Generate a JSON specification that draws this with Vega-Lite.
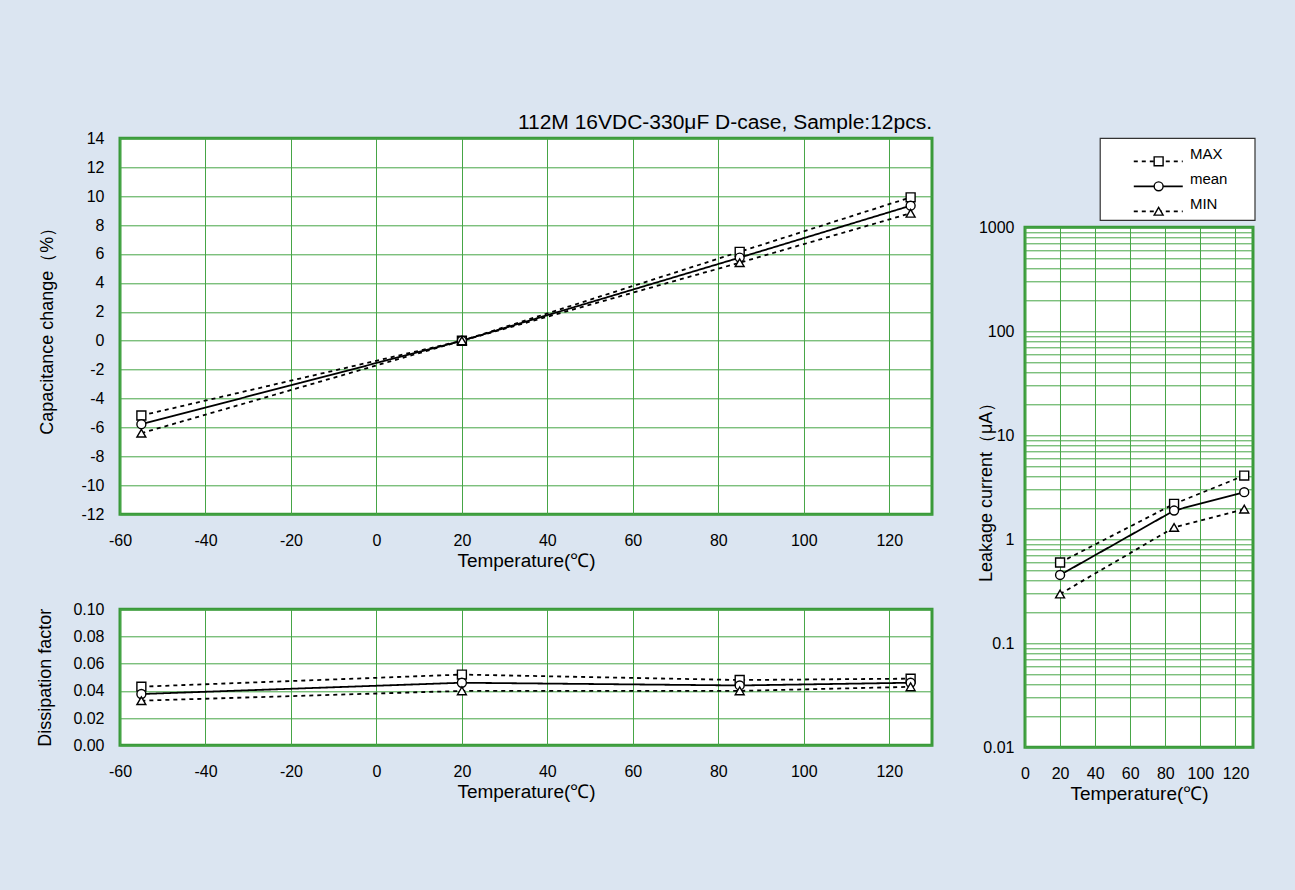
{
  "$schema": "https://vega.github.io/schema/vega-lite/v6.json",
  "background": "#dbe5f1",
  "padding": {"left": 35, "top": 110.3, "right": 40, "bottom": 86},
  "spacing": 41,
  "config": {
    "font": "Liberation Sans",
    "view": {"stroke": "#3a9a3a", "strokeWidth": 3, "fill": "white"},
    "axis": {
      "domain": false, "ticks": false, "grid": true,
      "gridColor": "#45a545", "gridWidth": 1, "gridOpacity": 1,
      "labelFont": "Liberation Sans", "labelFontSize": 16, "labelColor": "#000",
      "labelFlush": false, "labelOverlap": false, "labelPadding": 16,
      "titleFont": "Liberation Sans", "titleFontSize": 18, "titleFontWeight": "normal", "titleColor": "#000"
    },
    "axisX": {"labelPadding": 18, "titlePadding": 3, "titleFontSize": 19}
  },
  "datasets": {
    "cap": [
      {"t": -55, "s": "MAX", "v": -5.17}, {"t": -55, "s": "mean", "v": -5.77}, {"t": -55, "s": "MIN", "v": -6.39},
      {"t": 20, "s": "MAX", "v": 0.0}, {"t": 20, "s": "mean", "v": 0.0}, {"t": 20, "s": "MIN", "v": 0.0},
      {"t": 85, "s": "MAX", "v": 6.15}, {"t": 85, "s": "mean", "v": 5.75}, {"t": 85, "s": "MIN", "v": 5.4},
      {"t": 125, "s": "MAX", "v": 9.92}, {"t": 125, "s": "mean", "v": 9.34}, {"t": 125, "s": "MIN", "v": 8.82}
    ],
    "df": [
      {"t": -55, "s": "MAX", "v": 0.0431}, {"t": -55, "s": "mean", "v": 0.0377}, {"t": -55, "s": "MIN", "v": 0.0328},
      {"t": 20, "s": "MAX", "v": 0.052}, {"t": 20, "s": "mean", "v": 0.046}, {"t": 20, "s": "MIN", "v": 0.040},
      {"t": 85, "s": "MAX", "v": 0.048}, {"t": 85, "s": "mean", "v": 0.044}, {"t": 85, "s": "MIN", "v": 0.040},
      {"t": 125, "s": "MAX", "v": 0.049}, {"t": 125, "s": "mean", "v": 0.046}, {"t": 125, "s": "MIN", "v": 0.043}
    ],
    "lc": [
      {"t": 20, "s": "MAX", "v": 0.598}, {"t": 20, "s": "mean", "v": 0.454}, {"t": 20, "s": "MIN", "v": 0.298},
      {"t": 85, "s": "MAX", "v": 2.19}, {"t": 85, "s": "mean", "v": 1.89}, {"t": 85, "s": "MIN", "v": 1.30},
      {"t": 125, "s": "MAX", "v": 4.10}, {"t": 125, "s": "mean", "v": 2.84}, {"t": 125, "s": "MIN", "v": 1.95}
    ],
    "leg": [
      {"s": "MAX", "rank": 1}, {"s": "mean", "rank": 2}, {"s": "MIN", "rank": 3}
    ]
  },
  "hconcat": [
    {
      "vconcat": [
        {
          "width": 812, "height": 376,
          "title": {"text": "112M 16VDC-330μF D-case, Sample:12pcs.", "anchor": "end", "frame": "group", "fontSize": 21, "fontWeight": "normal", "color": "#000", "font": "Liberation Sans", "offset": -3},
          "data": {"name": "cap"},
          "encoding": {
            "x": {"field": "t", "type": "quantitative", "scale": {"domain": [-60, 130], "nice": false, "zero": false},
                  "axis": {"values": [-60, -40, -20, 0, 20, 40, 60, 80, 100, 120], "labelExpr": "replace(datum.label, '−', '-')", "title": "Temperature(℃)"}},
            "y": {"field": "v", "type": "quantitative", "scale": {"domain": [-12, 14], "nice": false},
                  "axis": {"values": [-12, -10, -8, -6, -4, -2, 0, 2, 4, 6, 8, 10, 12, 14], "labelExpr": "replace(datum.label, '−', '-')", "title": "Capacitance change（%）", "titlePadding": 24}}
          },
          "layer": [
            {"mark": {"type": "line", "color": "black", "strokeWidth": 1.8},
             "encoding": {"strokeDash": {"field": "s", "type": "nominal", "scale": {"domain": ["MAX", "mean", "MIN"], "range": [[4, 4], [1, 0], [4, 4]]}, "legend": null}}},
            {"mark": {"type": "point", "filled": true, "fill": "white", "stroke": "black", "strokeWidth": 1.4, "size": 80, "opacity": 1},
             "encoding": {"shape": {"field": "s", "type": "nominal", "scale": {"domain": ["MAX", "mean", "MIN"], "range": ["square", "circle", "triangle-up"]}, "legend": null}}}
          ]
        },
        {
          "width": 812, "height": 136,
          "data": {"name": "df"},
          "encoding": {
            "x": {"field": "t", "type": "quantitative", "scale": {"domain": [-60, 130], "nice": false, "zero": false},
                  "axis": {"values": [-60, -40, -20, 0, 20, 40, 60, 80, 100, 120], "labelExpr": "replace(datum.label, '−', '-')", "title": "Temperature(℃)"}},
            "y": {"field": "v", "type": "quantitative", "scale": {"domain": [0, 0.1], "nice": false},
                  "axis": {"values": [0, 0.02, 0.04, 0.06, 0.08, 0.1], "format": ".2f", "title": "Dissipation factor", "titlePadding": 18}}
          },
          "layer": [
            {"mark": {"type": "line", "color": "black", "strokeWidth": 1.8},
             "encoding": {"strokeDash": {"field": "s", "type": "nominal", "scale": {"domain": ["MAX", "mean", "MIN"], "range": [[4, 4], [1, 0], [4, 4]]}, "legend": null}}},
            {"mark": {"type": "point", "filled": true, "fill": "white", "stroke": "black", "strokeWidth": 1.4, "size": 80, "opacity": 1},
             "encoding": {"shape": {"field": "s", "type": "nominal", "scale": {"domain": ["MAX", "mean", "MIN"], "range": ["square", "circle", "triangle-up"]}, "legend": null}}}
          ]
        }
      ],
      "spacing": 95,
      "bounds": "flush"
    },
    {
      "vconcat": [
        {
          "width": 230, "height": 82,
          "view": {"stroke": null, "fill": null},
          "layer": [
            {"data": {"values": [{"box": 1}]},
             "mark": {"type": "rect", "fill": "white", "stroke": "#333333", "strokeWidth": 1.2},
             "encoding": {
               "x": {"datum": 0.327, "type": "quantitative", "scale": {"domain": [0, 1], "nice": false, "zero": false}, "axis": null},
               "x2": {"datum": 1},
               "y": {"datum": 0.08, "type": "quantitative", "scale": {"domain": [0.08, 3.36], "nice": false, "zero": false, "reverse": true}, "axis": null},
               "y2": {"datum": 3.36}
             }},
            {"data": {"name": "leg"},
             "mark": {"type": "rule", "color": "black", "strokeWidth": 1.8},
             "encoding": {
               "x": {"datum": 0.473, "type": "quantitative", "axis": null},
               "x2": {"datum": 0.686},
               "y": {"field": "rank", "type": "quantitative", "axis": null},
               "strokeDash": {"field": "s", "type": "nominal", "scale": {"domain": ["MAX", "mean", "MIN"], "range": [[4, 4], [1, 0], [4, 4]]}, "legend": null}
             }},
            {"data": {"name": "leg"},
             "mark": {"type": "point", "filled": true, "fill": "white", "stroke": "black", "strokeWidth": 1.4, "size": 80, "opacity": 1},
             "encoding": {
               "x": {"datum": 0.581, "type": "quantitative", "axis": null},
               "y": {"field": "rank", "type": "quantitative", "axis": null},
               "shape": {"field": "s", "type": "nominal", "scale": {"domain": ["MAX", "mean", "MIN"], "range": ["square", "circle", "triangle-up"]}, "legend": null}
             }},
            {"data": {"name": "leg"},
             "mark": {"type": "text", "align": "left", "baseline": "middle", "dy": -7, "fontSize": 15, "font": "Liberation Sans", "color": "black"},
             "encoding": {
               "x": {"datum": 0.717, "type": "quantitative", "axis": null},
               "y": {"field": "rank", "type": "quantitative", "axis": null},
               "text": {"field": "s"}
             }}
          ]
        },
        {
          "width": 228, "height": 520,
          "data": {"name": "lc"},
          "encoding": {
            "x": {"field": "t", "type": "quantitative", "scale": {"domain": [0, 130], "nice": false, "zero": false},
                  "axis": {"values": [0, 20, 40, 60, 80, 100, 120], "title": "Temperature(℃)"}},
            "y": {"field": "v", "type": "quantitative", "scale": {"type": "log", "domain": [0.01, 1000], "nice": false},
                  "axis": {
                    "values": [0.01, 0.02, 0.03, 0.04, 0.05, 0.06, 0.07, 0.08, 0.09, 0.1, 0.2, 0.3, 0.4, 0.5, 0.6, 0.7, 0.8, 0.9, 1, 2, 3, 4, 5, 6, 7, 8, 9, 10, 20, 30, 40, 50, 60, 70, 80, 90, 100, 200, 300, 400, 500, 600, 700, 800, 900, 1000],
                    "format": "~g",
                    "labelExpr": "indexof([0.01, 0.1, 1, 10, 100, 1000], datum.value) >= 0 ? datum.label : ''",
                    "labelPadding": 11,
                    "title": "Leakage current（μA）", "titlePadding": -17}}
          },
          "layer": [
            {"mark": {"type": "line", "color": "black", "strokeWidth": 1.8},
             "encoding": {"strokeDash": {"field": "s", "type": "nominal", "scale": {"domain": ["MAX", "mean", "MIN"], "range": [[4, 4], [1, 0], [4, 4]]}, "legend": null}}},
            {"mark": {"type": "point", "filled": true, "fill": "white", "stroke": "black", "strokeWidth": 1.4, "size": 80, "opacity": 1},
             "encoding": {"shape": {"field": "s", "type": "nominal", "scale": {"domain": ["MAX", "mean", "MIN"], "range": ["square", "circle", "triangle-up"]}, "legend": null}}}
          ]
        }
      ],
      "spacing": 7,
      "bounds": "flush"
    }
  ]
}
